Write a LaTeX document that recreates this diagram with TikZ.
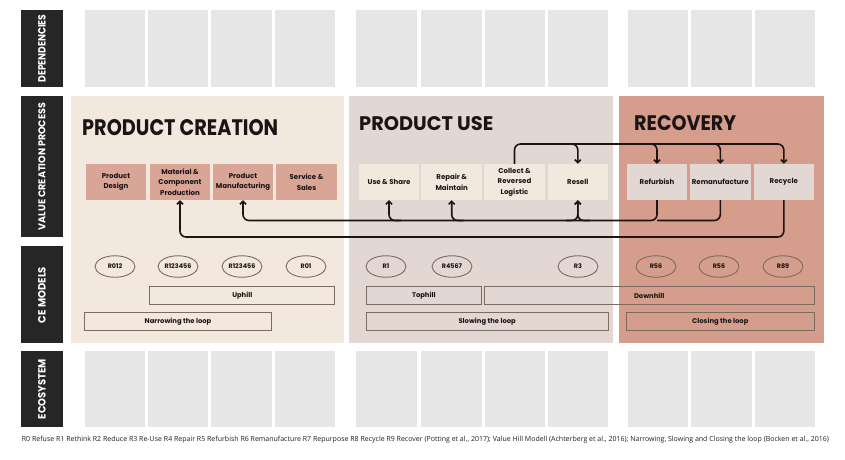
\documentclass[tikz,border=0pt]{standalone}
\usepackage{fontspec}
\setmainfont{Poppins}
\newfontfamily\capfont{Open Sans}
\usetikzlibrary{arrows.meta,shapes.geometric,calc}
\definecolor{barcol}{HTML}{262626}
\definecolor{greycol}{HTML}{E6E6E6}
\definecolor{pcpanel}{HTML}{F3E8DE}
\definecolor{pupanel}{HTML}{E3D7D3}
\definecolor{rcpanel}{HTML}{D59D8C}
\definecolor{pcbox}{HTML}{D9A596}
\definecolor{pubox}{HTML}{F3E8DE}
\definecolor{rcbox}{HTML}{E3D7D3}
\definecolor{txtcol}{HTML}{1A1414}
\definecolor{linecol}{HTML}{7E6B60}
\definecolor{arrowcol}{HTML}{1E1414}
\definecolor{capcol}{HTML}{202020}
\begin{document}
\begin{tikzpicture}[x=1pt,y=-1pt,
  darkbar/.style={fill=barcol},
  greybox/.style={fill=greycol},
  barlabel/.style={text=white,rotate=90,inner sep=0pt},
  proc/.style={minimum width=60.5pt,minimum height=36pt,inner sep=0pt,align=center,
    font=\bfseries\fontsize{7}{10.5}\selectfont,text=txtcol},
  oval/.style={ellipse,draw=linecol,line width=0.9pt,minimum width=40pt,minimum height=21.5pt,
    inner sep=0pt,font=\bfseries\fontsize{6.4}{7}\selectfont,text=txtcol},
  hill/.style={draw=linecol,line width=0.9pt,inner sep=0pt,minimum height=17.6pt,
    font=\bfseries\fontsize{6.8}{8}\selectfont,text=txtcol},
  title/.style={anchor=north west,inner sep=0pt,text=txtcol,font=\bfseries},
  flow/.style={draw=arrowcol,line width=1.6pt,rounded corners=6pt},
  tip/.style={-{Straight Barb[length=3pt,width=6pt]}}
]
\useasboundingbox (0,0) rectangle (845,459);
\fill[white] (0,0) rectangle (845,459);

% left dark bars
\fill[darkbar] (21,10) rectangle (63,87);
\fill[darkbar] (21,96) rectangle (63,237);
\fill[darkbar] (21,246) rectangle (63,343);
\fill[darkbar] (21,351) rectangle (63,427);
\node[barlabel] (lbdep) at (42,48.5) {\resizebox{68pt}{7.5pt}{\bfseries DEPENDENCIES}};
\node[barlabel] (lbvcp) at (42,166.5) {\resizebox{127pt}{7pt}{\bfseries VALUE CREATION PROCESS}};
\node[barlabel] (lbce) at (42,295) {\resizebox{56pt}{7.5pt}{\bfseries CE MODELS}};
\node[barlabel] (lbeco) at (42,389) {\resizebox{60pt}{7.5pt}{\bfseries ECOSYSTEM}};

% grey boxes
\foreach \a/\b in {85/145,148/208,211/272,275/335,356/417,421/482,485/545,548/608,628/688,691/752,755/815}{
  \fill[greybox] (\a,10) rectangle (\b,87);
  \fill[greybox] (\a,351) rectangle (\b,427);
}

% panels
\fill[pcpanel] (71,96) rectangle (344,343);
\fill[pupanel] (349,96) rectangle (613,343);
\fill[rcpanel] (619,96) rectangle (824,343);

% titles
\node[title] (tpc) at (82,119) {\resizebox{196pt}{16pt}{\bfseries PRODUCT CREATION}};
\node[title] (tpu) at (359,116) {\resizebox{134pt}{14pt}{\bfseries PRODUCT USE}};
\node[title] (trc) at (634,115) {\resizebox{102pt}{15pt}{\bfseries RECOVERY}};

% process boxes
\node[proc,fill=pcbox] (pd) at (116,182) {Product\\Design};
\node[proc,fill=pcbox] (mcp) at (180,182) {Material \&\\Component\\Production};
\node[proc,fill=pcbox] (pm) at (243,182) {Product\\Manufacturing};
\node[proc,fill=pcbox] (ss) at (306.5,182) {Service \&\\Sales};
\node[proc,fill=pubox] (us) at (389,182) {Use \& Share};
\node[proc,fill=pubox] (rm) at (451.7,182) {Repair \&\\Maintain};
\node[proc,fill=pubox] (crl) at (514.5,182) {Collect \&\\Reversed\\Logistic};
\node[proc,fill=pubox] (rs) at (577.8,182) {Resell};
\node[proc,fill=rcbox] (rfb) at (657,182) {Refurbish};
\node[proc,fill=rcbox] (rem) at (720.3,182) {Remanufacture};
\node[proc,fill=rcbox] (rcy) at (783.8,182) {Recycle};

% flow levels
\coordinate (high) at (0,144);
\coordinate (low1) at (0,220.5);
\coordinate (low2) at (0,237);

% top flow
\draw[flow,tip] (crl.north) -- (crl.north |- high) -- (rcy.north |- high) -- (rcy.north);
\draw[flow,tip] ($(rs.north |- high)+(-12,0)$) -| (rs.north);
\draw[flow,tip] ($(rfb.north |- high)+(-12,0)$) -| (rfb.north);
\draw[flow,tip] ($(rem.north |- high)+(-12,0)$) -| (rem.north);

% bottom flows
\draw[flow,tip] (rfb.south) -- (rfb.south |- low1) -- (pm.south |- low1) -- (pm.south);
\draw[flow] (rem.south) -- (rem.south |- low1) -- (rfb.south |- low1);
\draw[flow,tip] ($(us.south |- low1)+(12,0)$) -| (us.south);
\draw[flow,tip] ($(rm.south |- low1)+(12,0)$) -| (rm.south);
\draw[flow,tip] ($(rs.south |- low1)+(12,0)$) -| (rs.south);
\draw[flow,tip] ($(rs.south |- low1)+(-12,0)$) -| (rs.south);
\draw[flow,tip] (rcy.south) -- (rcy.south |- low2) -- (mcp.south |- low2) -- (mcp.south);

% CE model ovals
\node[oval] (o1) at (115,266.5) {R012};
\node[oval] (o2) at (178,266.5) {R123456};
\node[oval] (o3) at (242,266.5) {R123456};
\node[oval] (o4) at (306,266.5) {R01};
\node[oval] (o5) at (386,266.5) {R1};
\node[oval] (o6) at (452,266.5) {R4567};
\node[oval] (o7) at (578,266.5) {R3};
\node[oval] (o8) at (656,266.5) {R56};
\node[oval] (o9) at (719,266.5) {R56};
\node[oval] (o10) at (783,266.5) {R89};

% hill / loop bars
\node[hill,minimum width=185pt] (uph) at (242.3,295.5) {Uphill};
\node[hill,minimum width=115.7pt] (toph) at (423.8,295.5) {Tophill};
\node[hill,minimum width=330.3pt] (downh) at (649.2,295.5) {Downhill};
\node[hill,minimum width=187.4pt,minimum height=18pt] (narrow) at (178,321.7) {Narrowing the loop};
\node[hill,minimum width=242.3pt,minimum height=18pt] (slow) at (487.2,321.7) {Slowing the loop};
\node[hill,minimum width=188pt,minimum height=18pt] (close) at (720.3,321.7) {Closing the loop};

% caption
\node[anchor=west,inner sep=0pt,text=capcol] (cap) at (21.7,439.3) {\resizebox{807pt}{!}{\capfont\fontsize{7.5}{9}\selectfont R0 Refuse R1 Rethink R2 Reduce R3 Re-Use R4 Repair R5 Refurbish R6 Remanufacture R7 Repurpose R8 Recycle R9 Recover (Potting et al., 2017); Value Hill Modell (Achterberg et al., 2016); Narrowing, Slowing and Closing the loop (Bocken et al., 2016)}};
\end{tikzpicture}
\end{document}
